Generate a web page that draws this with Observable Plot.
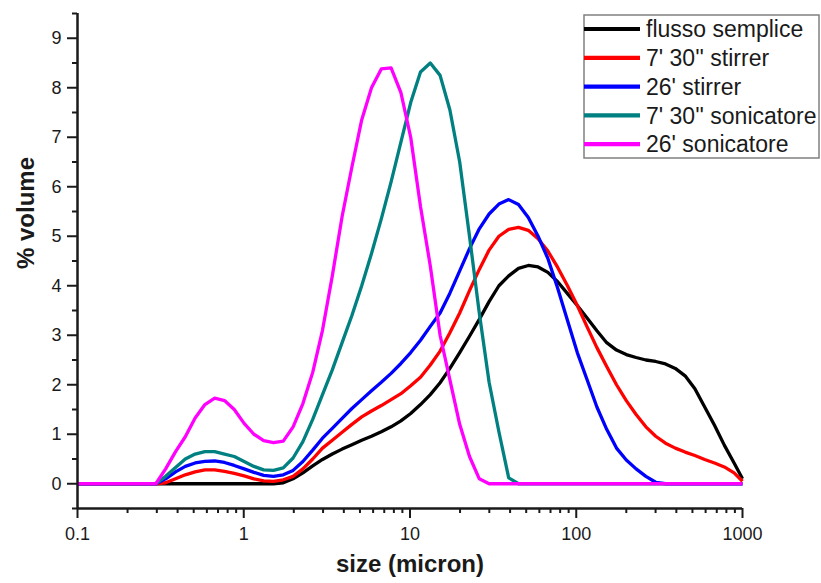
<!DOCTYPE html>
<html>
<head>
<meta charset="utf-8">
<script src="https://cdn.jsdelivr.net/npm/d3@7"></script>
<script src="https://cdn.jsdelivr.net/npm/@observablehq/plot@0.6"></script>
<style>
  html, body { margin: 0; padding: 0; background: #fff; }
  #chart { position: relative; width: 821px; height: 583px; }
  #chart svg { display: block; }
</style>
</head>
<body>
<div id="chart"></div>
<script>
// Particle size grid (micron)
const sizes = [0.100, 0.115, 0.131, 0.150, 0.172, 0.197, 0.226, 0.259, 0.296, 0.339,
  0.389, 0.445, 0.510, 0.584, 0.669, 0.766, 0.877, 1.005, 1.151, 1.318,
  1.510, 1.729, 1.981, 2.269, 2.599, 2.976, 3.409, 3.905, 4.472, 5.122,
  5.867, 6.720, 7.697, 8.816, 10.097, 11.565, 13.246, 15.172, 17.377, 19.904,
  22.797, 26.111, 29.907, 34.255, 39.234, 44.938, 51.471, 58.953, 67.523, 77.339,
  88.583, 101.46, 116.21, 133.10, 152.45, 174.62, 200.00, 229.08, 262.38, 300.52,
  344.21, 394.24, 451.56, 517.20, 592.39, 678.50, 777.14, 890.12, 1000];

const names = ["flusso semplice", "7' 30'' stirrer", "26' stirrer", "7' 30'' sonicatore", "26' sonicatore"];

const flussoSemplice = [0, 0, 0, 0, 0, 0, 0, 0, 0, 0,
  0, 0, 0, 0, 0, 0, 0, 0, 0, 0,
  0, 0.02, 0.1, 0.22, 0.36, 0.49, 0.6, 0.7, 0.79, 0.88,
  0.96, 1.05, 1.15, 1.27, 1.42, 1.6, 1.8, 2.04, 2.33, 2.65,
  2.98, 3.32, 3.68, 4.0, 4.2, 4.35, 4.41, 4.38, 4.27, 4.08,
  3.84, 3.6, 3.35, 3.09, 2.85, 2.7, 2.61, 2.55, 2.5, 2.47,
  2.42, 2.33, 2.18, 1.92, 1.55, 1.18, 0.78, 0.42, 0.1];

const stirrer730 = [0, 0, 0, 0, 0, 0, 0, 0, 0, 0.02,
  0.1, 0.18, 0.24, 0.28, 0.28, 0.25, 0.21, 0.16, 0.1, 0.06,
  0.05, 0.08, 0.15, 0.3, 0.5, 0.72, 0.88, 1.04, 1.2, 1.35,
  1.47, 1.58, 1.7, 1.82, 1.98, 2.15, 2.4, 2.68, 3.05, 3.45,
  3.9, 4.33, 4.72, 5.0, 5.14, 5.18, 5.12, 4.95, 4.7, 4.37,
  4.0, 3.6, 3.17, 2.75, 2.37, 2.0, 1.68, 1.4, 1.15, 0.96,
  0.82, 0.72, 0.64, 0.57, 0.49, 0.42, 0.34, 0.22, 0.05];

const stirrer26 = [0, 0, 0, 0, 0, 0, 0, 0, 0, 0.1,
  0.24, 0.35, 0.42, 0.45, 0.46, 0.43, 0.37, 0.3, 0.23, 0.17,
  0.15, 0.18, 0.27, 0.45, 0.68, 0.92, 1.12, 1.32, 1.52, 1.7,
  1.88, 2.05, 2.23, 2.43, 2.65, 2.9, 3.18, 3.45, 3.85, 4.3,
  4.75, 5.15, 5.45, 5.65, 5.74, 5.64, 5.38, 5.0, 4.55, 3.95,
  3.3, 2.65, 2.1, 1.55, 1.1, 0.72, 0.48, 0.3, 0.15, 0.03,
  0, 0, 0, 0, 0, 0, 0, 0, 0];

const sonicatore730 = [0, 0, 0, 0, 0, 0, 0, 0, 0, 0.15,
  0.33, 0.5, 0.6, 0.65, 0.65, 0.6, 0.55, 0.45, 0.35, 0.28,
  0.27, 0.32, 0.52, 0.85, 1.3, 1.8, 2.3, 2.85, 3.4, 4.0,
  4.65, 5.35, 6.1, 6.9, 7.7, 8.32, 8.5, 8.25, 7.55, 6.5,
  5.0, 3.45, 2.05, 1.05, 0.12, 0, 0, 0, 0, 0,
  0, 0, 0, 0, 0, 0, 0, 0, 0, 0,
  0, 0, 0, 0, 0, 0, 0, 0, 0];

const sonicatore26 = [0, 0, 0, 0, 0, 0, 0, 0, 0, 0.3,
  0.65, 0.95, 1.33, 1.6, 1.73, 1.68, 1.5, 1.22, 1.0, 0.87,
  0.83, 0.86, 1.15, 1.62, 2.25, 3.1, 4.2, 5.4, 6.4, 7.35,
  8.0, 8.38, 8.4, 7.9, 7.0, 5.6, 4.4, 3.0, 2.1, 1.2,
  0.55, 0.1, 0, 0, 0, 0, 0, 0, 0, 0,
  0, 0, 0, 0, 0, 0, 0, 0, 0, 0,
  0, 0, 0, 0, 0, 0, 0, 0, 0];

const seriesValues = [flussoSemplice, stirrer730, stirrer26, sonicatore730, sonicatore26];
const colors = ["#000000", "#ff0000", "#0000ff", "#008080", "#ff00ff"];

const xMajor = [0.1, 1, 10, 100, 1000];
const xMinor = [0.2, 0.3, 0.4, 0.5, 0.6, 0.7, 0.8, 0.9,
  2, 3, 4, 5, 6, 7, 8, 9,
  20, 30, 40, 50, 60, 70, 80, 90,
  200, 300, 400, 500, 600, 700, 800, 900];
const yMajor = [0, 1, 2, 3, 4, 5, 6, 7, 8, 9];
const yMinor = [-0.5, 0.5, 1.5, 2.5, 3.5, 4.5, 5.5, 6.5, 7.5, 8.5, 9.5];

const xTitle = "size (micron)";
const yTitle = "% volume";

const tables = names.map((n, i) => sizes.map((s, k) => ({size: s, value: seriesValues[i][k], series: n})));

const font = "'Liberation Sans', Arial, sans-serif";

const svg = Plot.plot({
  width: 821,
  height: 583,
  marginLeft: 77,
  marginRight: 79,
  marginTop: 13,
  marginBottom: 75,
  style: {fontFamily: font, background: "#fff", color: "#1a1a1a", overflow: "visible"},
  x: {type: "log", domain: [0.1, 1000]},
  y: {domain: [-0.5, 9.5]},
  color: {domain: names, range: colors},
  marks: [
    ...tables.map(t => Plot.line(t, {x: "size", y: "value", stroke: "series", strokeWidth: 3.3, strokeLinejoin: "round", strokeLinecap: "butt"})),
    Plot.ruleX([0.1], {stroke: "#1a1a1a", strokeWidth: 2.5}),
    Plot.ruleY([-0.5], {stroke: "#1a1a1a", strokeWidth: 2.5}),
    Plot.axisX(xMajor, {tickSize: 10, tickPadding: 9, strokeWidth: 2, fontSize: 18, tickFormat: d => String(d), label: null}),
    Plot.axisX(xMinor, {tickSize: 5, strokeWidth: 2, tickFormat: () => "", label: null}),
    Plot.axisY(yMajor, {tickSize: 10, tickPadding: 6, strokeWidth: 2, fontSize: 18, tickFormat: d => String(d), label: null}),
    Plot.axisY(yMinor, {tickSize: 5, strokeWidth: 2, tickFormat: () => "", label: null}),
    Plot.text([xTitle], {frameAnchor: "bottom", dy: 63, fontSize: 24, fontWeight: "bold", fill: "#1a1a1a"}),
    Plot.text([yTitle], {frameAnchor: "left", dx: -51, dy: 8, rotate: -90, fontSize: 24, fontWeight: "bold", fill: "#1a1a1a"})
  ]
});

document.getElementById("chart").appendChild(svg);

// Legend (line swatches)
const lg = d3.select(svg).append("g").attr("font-family", font).attr("text-anchor", "start");
lg.append("rect").attr("x", 584).attr("y", 15).attr("width", 235).attr("height", 143)
  .attr("fill", "#fff").attr("stroke", "#808080").attr("stroke-width", 1.5);
names.forEach((n, i) => {
  const cy = 29 + i * 28.8;
  lg.append("line").attr("x1", 584).attr("x2", 640).attr("y1", cy).attr("y2", cy)
    .attr("stroke", colors[i]).attr("stroke-width", 4.2);
  lg.append("text").attr("x", 646).attr("y", cy).attr("dy", "0.36em")
    .attr("text-anchor", "start").attr("font-size", 23).attr("fill", "#1a1a1a").text(n);
});
</script>
</body>
</html>
